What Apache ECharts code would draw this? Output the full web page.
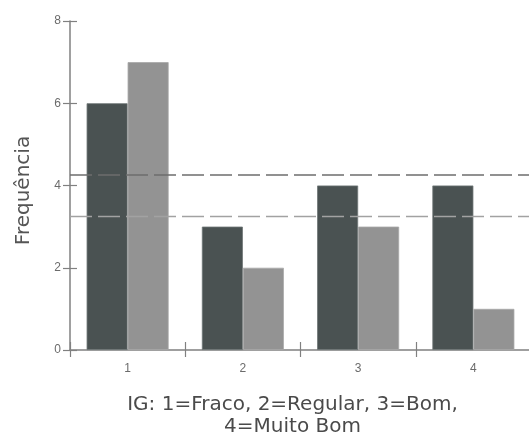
<!DOCTYPE html>
<html>
<head>
<meta charset="utf-8">
<script src="https://cdn.jsdelivr.net/npm/echarts@6/dist/echarts.min.js"></script>
<style>html,body{margin:0;padding:0;background:#fff}#c{width:529px;height:441px}</style>
</head>
<body>
<div id="c"></div>
<script>
var categories = ['1', '2', '3', '4'];
var seriesDark = [6, 3, 4, 4];
var seriesLight = [7, 2, 3, 1];
var refLines = [4.25, 3.25];
var yTicks = [0, 2, 4, 6, 8];

var chart = echarts.init(document.getElementById('c'), null, {renderer: 'canvas'});
var axisColor = '#808080';
var labelFont = {color: '#6b6b6b', fontSize: 12, fontFamily: 'Liberation Sans, Arial, sans-serif'};
var yBase = {
  type: 'value', min: yTicks[0], max: yTicks[yTicks.length - 1], interval: 2,
  splitLine: {show: false}, position: 'left'
};
chart.setOption({
  animation: false,
  grid: {left: 70, top: 21, right: -2, bottom: 91, containLabel: false, outerBoundsMode: 'none'},
  xAxis: [{
    type: 'category', data: categories, position: 'bottom',
    axisLine: {lineStyle: {color: axisColor, width: 1.5}},
    axisTick: {show: true, length: 7, lineStyle: {color: axisColor, width: 1.2}},
    axisLabel: Object.assign({margin: 13}, labelFont),
    name: 'IG: 1=Fraco, 2=Regular, 3=Bom,\n4=Muito Bom',
    nameLocation: 'middle', nameGap: 44,
    nameTextStyle: {color: '#4a4a4a', fontSize: 20, lineHeight: 22, fontFamily: 'DejaVu Sans, sans-serif', padding: [0, 16, 0, 0]}
  }, {
    type: 'category', data: categories, position: 'bottom',
    axisLine: {show: false},
    axisTick: {show: true, inside: true, length: 8, lineStyle: {color: axisColor, width: 1.2}},
    axisLabel: {show: false}
  }],
  yAxis: [Object.assign({}, yBase, {
    axisLine: {show: true, lineStyle: {color: axisColor, width: 1.5}},
    axisTick: {show: true, length: 7, lineStyle: {color: axisColor, width: 1.2}},
    axisLabel: Object.assign({margin: 9}, labelFont),
    name: 'Frequência', nameLocation: 'middle', nameGap: 36, nameRotate: 90,
    nameTextStyle: {color: '#555555', fontSize: 20, fontFamily: 'DejaVu Sans, sans-serif', padding: [0, 10, 0, 0]}
  }), Object.assign({}, yBase, {
    axisLine: {show: false},
    axisTick: {show: true, inside: true, length: 7, lineStyle: {color: axisColor, width: 1.2}},
    axisLabel: {show: false}
  })],
  series: [{
    type: 'bar', data: seriesDark, barWidth: 41, barGap: '0%',
    itemStyle: {color: '#4a5252', borderColor: '#6f7676', borderWidth: 0.8}
  }, {
    type: 'bar', data: seriesLight, barWidth: 41, barGap: '0%',
    itemStyle: {color: '#939393', borderColor: '#a8a8a8', borderWidth: 0.8},
    markLine: {
      silent: true, symbol: 'none', label: {show: false}, z: 10,
      data: [
        {yAxis: refLines[0], lineStyle: {color: '#6e6e6e', width: 1.6, type: [22, 6]}},
        {yAxis: refLines[1], lineStyle: {color: '#a2a2a2', width: 1.3, type: [22, 6]}}
      ]
    }
  }]
});
</script>
</body>
</html>
